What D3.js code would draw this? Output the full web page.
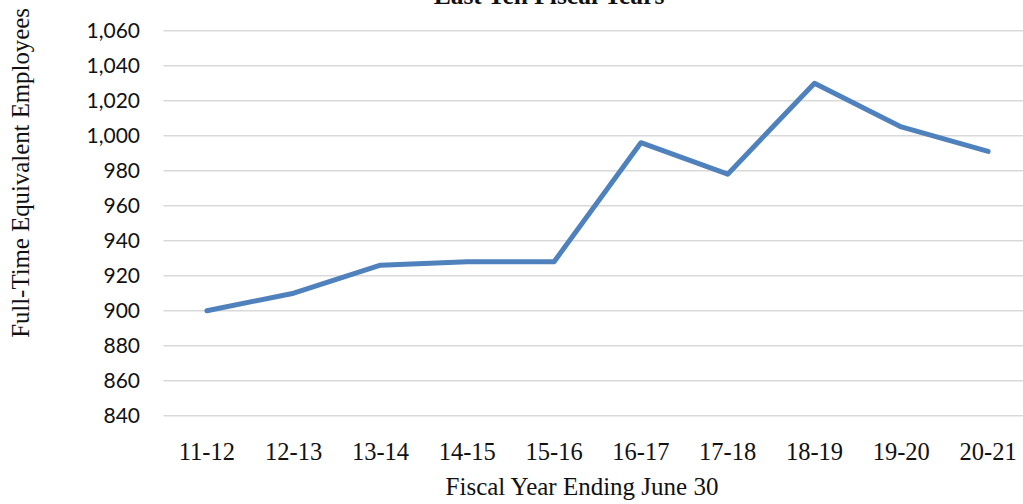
<!DOCTYPE html>
<html>
<head>
<meta charset="utf-8">
<script src="https://cdn.jsdelivr.net/npm/d3@7"></script>
<style>
  html, body { margin: 0; padding: 0; background: #fff; overflow: hidden; }
  svg { display: block; }
</style>
</head>
<body>
<svg id="chart" width="1023" height="504"></svg>
<script>
// Full-time equivalent employees by fiscal year
const fiscalYears = ["11-12", "12-13", "13-14", "14-15", "15-16", "16-17", "17-18", "18-19", "19-20", "20-21"];
const fteCounts = [900, 910, 926, 928, 928, 996, 978, 1030, 1005, 991];
const yTicks = [840, 860, 880, 900, 920, 940, 960, 980, 1000, 1020, 1040, 1060];

const svg = d3.select("#chart");
const serif = "'Liberation Serif', 'DejaVu Serif', serif";
const sans = "Lato, 'Open Sans', 'Liberation Sans', sans-serif";

const plotLeft = 163.5, plotRight = 1031.5;
const x = d3.scaleBand().domain(fiscalYears).range([plotLeft, plotRight]).paddingInner(0).paddingOuter(0);
const y = d3.scaleLinear().domain([840, 1060]).range([415.7, 30.7]);

// horizontal gridlines
svg.append("g")
  .selectAll("line")
  .data(yTicks)
  .join("line")
  .attr("x1", plotLeft)
  .attr("x2", plotRight)
  .attr("y1", d => y(d))
  .attr("y2", d => y(d))
  .attr("stroke", "#d9d9d9")
  .attr("stroke-width", 1.6);

// y tick labels
const fmt = d3.format(",");
svg.append("g")
  .selectAll("text")
  .data(yTicks)
  .join("text")
  .attr("x", 140)
  .attr("y", d => y(d))
  .attr("dy", "0.36em")
  .attr("text-anchor", "end")
  .attr("font-family", sans)
  .attr("font-size", 21)
  .attr("fill", "#111")
  .text(d => fmt(d));

// x tick labels
svg.append("g")
  .selectAll("text")
  .data(fiscalYears)
  .join("text")
  .attr("x", d => x(d) + x.bandwidth() / 2)
  .attr("y", 460)
  .attr("text-anchor", "middle")
  .attr("font-family", serif)
  .attr("font-size", 24.5)
  .attr("fill", "#111")
  .text(d => d);

// data line
const line = d3.line()
  .x((d, i) => x(fiscalYears[i]) + x.bandwidth() / 2)
  .y(d => y(d));

svg.append("path")
  .datum(fteCounts)
  .attr("d", line)
  .attr("fill", "none")
  .attr("stroke", "#4f81bd")
  .attr("stroke-width", 5)
  .attr("stroke-linejoin", "round")
  .attr("stroke-linecap", "round");

// chart title (partially above the top edge)
svg.append("text")
  .attr("x", 549)
  .attr("y", 4)
  .attr("text-anchor", "middle")
  .attr("font-family", serif)
  .attr("font-weight", "bold")
  .attr("font-size", 25.5)
  .attr("fill", "#111")
  .text("Last Ten Fiscal Years");

// axis titles
svg.append("text")
  .attr("x", 582)
  .attr("y", 495)
  .attr("text-anchor", "middle")
  .attr("font-family", serif)
  .attr("font-size", 25)
  .attr("fill", "#111")
  .text("Fiscal Year Ending June 30");

svg.append("text")
  .attr("transform", "translate(29,173) rotate(-90)")
  .attr("text-anchor", "middle")
  .attr("font-family", serif)
  .attr("font-size", 24.8)
  .attr("fill", "#111")
  .text("Full-Time Equivalent Employees");
</script>
</body>
</html>
